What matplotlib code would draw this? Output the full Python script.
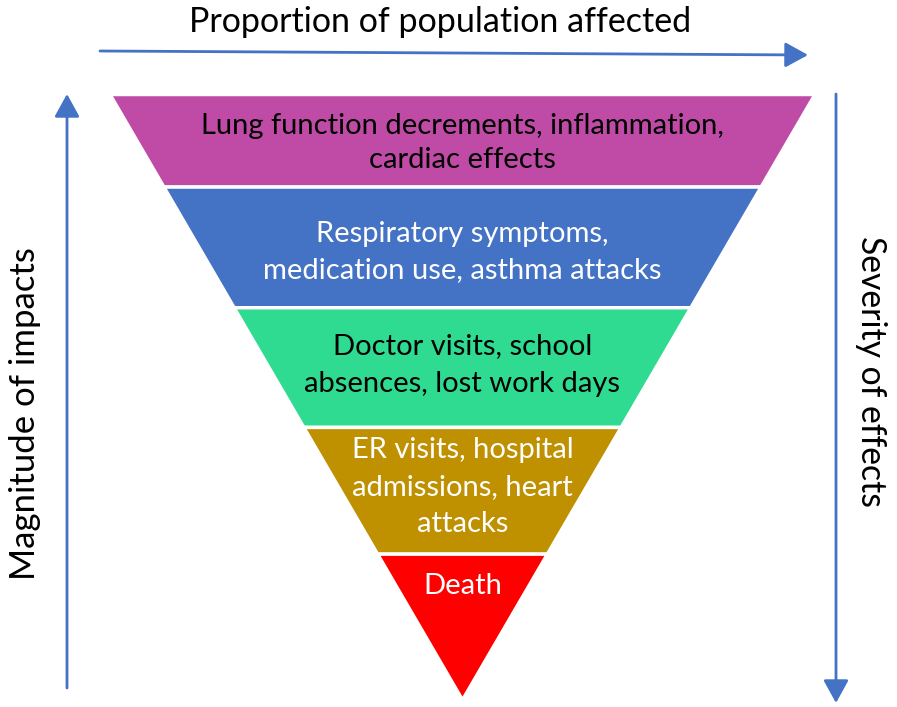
import matplotlib
matplotlib.use("Agg")
import matplotlib.pyplot as plt
from matplotlib.patches import Polygon, FancyArrowPatch

# ---- data ----
labels = [
    "Lung function decrements, inflammation,\ncardiac effects",
    "Respiratory symptoms,\nmedication use, asthma attacks",
    "Doctor visits, school\nabsences, lost work days",
    "ER visits, hospital\nadmissions, heart\nattacks",
    "Death",
]
colors = ["#BF4BA6", "#4472C4", "#2EDB91", "#BF9000", "#FF0000"]
text_colors = ["black", "white", "black", "white", "white"]
band_heights = [92, 120, 119, 126, 145]   # relative band thickness (top → bottom)
title_top = "Proportion of population affected"
title_left = "Magnitude of impacts"
title_right = "Severity of effects"

FONT = ["Lato", "DejaVu Sans"]

W, H = 897, 707
fig = plt.figure(figsize=(W / 100, H / 100), dpi=100)
ax = fig.add_axes([0, 0, 1, 1])
ax.set_xlim(0, W)
ax.set_ylim(H, 0)
ax.axis("off")

# pyramid geometry
top_y, apex_y = 94.5, 700
left_x, right_x = 110, 815
cx = (left_x + right_x) / 2
scale = (apex_y - top_y) / sum(band_heights)

def half_width(y):
    return (right_x - left_x) / 2 * (apex_y - y) / (apex_y - top_y)

y0 = top_y
text_centers = [143, 252, 365, 487, 586]
line_sp = [1.37, 1.45, 1.58, 1.52, 1.3]
for i, h in enumerate(band_heights):
    y1 = y0 + h * scale
    hw0, hw1 = half_width(y0), half_width(y1)
    pts = [(cx - hw0, y0), (cx + hw0, y0), (cx + hw1, y1), (cx - hw1, y1)]
    ax.add_patch(Polygon(pts, closed=True, facecolor=colors[i],
                         edgecolor="white", linewidth=2.5, joinstyle="miter"))
    ax.text(cx, text_centers[i], labels[i], ha="center", va="center",
            color=text_colors[i], fontsize=21, family=FONT, linespacing=line_sp[i])
    y0 = y1

arrow_color = "#4472C4"
def arrow(p0, p1):
    ax.add_patch(FancyArrowPatch(p0, p1, arrowstyle="-|>,head_length=1.0,head_width=0.55",
                                 mutation_scale=14, color=arrow_color, linewidth=2,
                                 shrinkA=0, shrinkB=0))

arrow((100, 51), (808, 55))
arrow((67, 688), (67, 94))
arrow((836, 94), (836, 703))

ax.text(440, 22, title_top, ha="center", va="center", fontsize=24.5, family=FONT)
ax.text(25, 414, title_left, ha="center", va="center", rotation=90, fontsize=25, family=FONT)
ax.text(871, 372, title_right, ha="center", va="center", rotation=270, fontsize=24.3, family=FONT)

fig.savefig("out.png", dpi=100)
